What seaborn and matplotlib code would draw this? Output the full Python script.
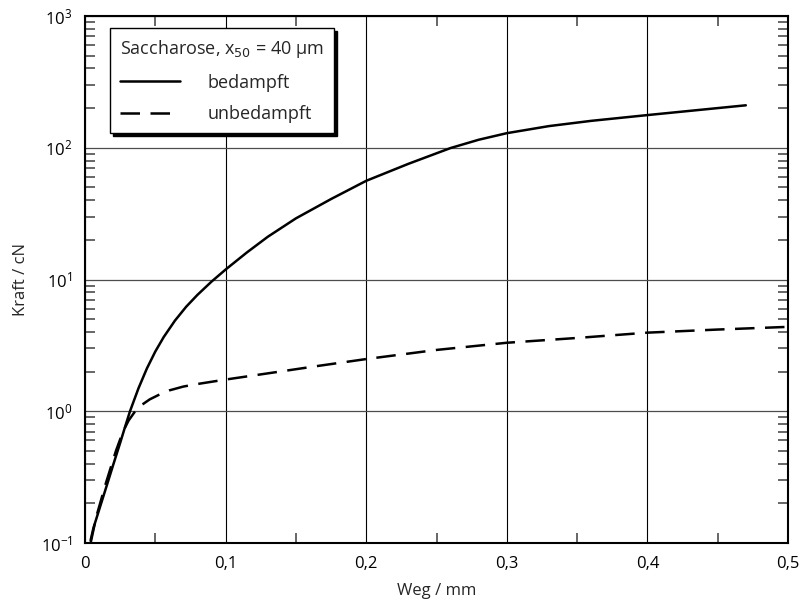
import numpy as np
import pandas as pd
import matplotlib
matplotlib.use("Agg")
import matplotlib.pyplot as plt
import matplotlib.ticker as mticker
import seaborn as sns

# bedampft (solid)
weg_bed = [0.004, 0.006, 0.01, 0.015, 0.02, 0.025, 0.0284, 0.032, 0.038, 0.044,
           0.05, 0.056, 0.064, 0.072, 0.08, 0.09, 0.1, 0.115, 0.13, 0.15,
           0.175, 0.2, 0.23, 0.26, 0.28, 0.3, 0.33, 0.36, 0.4, 0.47]
kraft_bed = [0.105, 0.13, 0.178, 0.263, 0.39, 0.575, 0.755, 1.0, 1.49, 2.11,
             2.84, 3.66, 4.88, 6.22, 7.65, 9.64, 11.9, 16.0, 21.1, 29.1,
             40.8, 56.1, 75.5, 99.5, 115.0, 129.0, 146.0, 160.0, 177.0, 210.0]

# unbedampft (dashed)
weg_unb = [0.004, 0.008, 0.015, 0.022, 0.027, 0.031, 0.035, 0.04, 0.046, 0.053,
           0.06, 0.07, 0.08, 0.1, 0.133, 0.166, 0.2, 0.25, 0.3, 0.35,
           0.4, 0.45, 0.5]
kraft_unb = [0.1, 0.158, 0.288, 0.5, 0.7, 0.85, 0.977, 1.11, 1.23, 1.34,
             1.44, 1.54, 1.61, 1.74, 1.96, 2.21, 2.49, 2.92, 3.31, 3.6,
             3.95, 4.17, 4.37]

x_ticks = [0, 0.1, 0.2, 0.3, 0.4, 0.5]
x_labels = ["0", "0,1", "0,2", "0,3", "0,4", "0,5"]

df = pd.concat([
    pd.DataFrame({"Weg": weg_bed, "Kraft": kraft_bed, "Probe": "bedampft"}),
    pd.DataFrame({"Weg": weg_unb, "Kraft": kraft_unb, "Probe": "unbedampft"}),
])

sns.set_theme(style="ticks")
plt.rcParams["font.family"] = ["Open Sans", "DejaVu Sans"]

fig = plt.figure(figsize=(8.04, 6.06), dpi=100)
ax = fig.add_axes([85 / 804, 63 / 606, 703 / 804, 527 / 606])

sns.lineplot(data=df, x="Weg", y="Kraft", style="Probe", color="black",
             dashes={"bedampft": "", "unbedampft": (7.8, 4.2)}, linewidth=1.8,
             sort=False, estimator=None, ax=ax)

ax.set_yscale("log")
ax.set_xlim(0, 0.5)
ax.set_ylim(0.1, 1000)
ax.set_xticks(x_ticks)
ax.set_xticklabels(x_labels)
ax.xaxis.set_minor_locator(mticker.MultipleLocator(0.05))
ax.yaxis.set_minor_locator(mticker.LogLocator(base=10, subs=np.arange(2, 10)))
ax.yaxis.set_minor_formatter(mticker.NullFormatter())

ax.grid(True, which="major", axis="x", color="black", linewidth=0.8)
ax.grid(True, which="major", axis="y", color="0.3", linewidth=0.9)
ax.tick_params(which="both", direction="in", top=True, right=True, colors="black",
               labelsize=12, pad=9)
ax.tick_params(which="major", length=0, width=1)
ax.tick_params(which="minor", length=7, width=1.2, color="0.3")
for s in ax.spines.values():
    s.set_linewidth(1.5)
    s.set_color("black")

ax.set_xlabel("Weg / mm", fontsize=12, labelpad=8)
ax.set_ylabel("Kraft / cN", fontsize=12, labelpad=8)

leg = ax.legend(title="Saccharose, x$_{50}$ = 40 µm", loc="upper left",
                bbox_to_anchor=(0.036, 0.977), borderaxespad=0, frameon=True,
                fancybox=False, shadow={"color": "black", "alpha": 1},
                fontsize=13, title_fontsize=13,
                handlelength=3.32, handletextpad=1.5, labelspacing=0.75,
                borderpad=0.55, alignment="left")
leg.get_frame().set_edgecolor("black")
leg.get_frame().set_linewidth(1.0)

fig.savefig("out.png", dpi=100)
